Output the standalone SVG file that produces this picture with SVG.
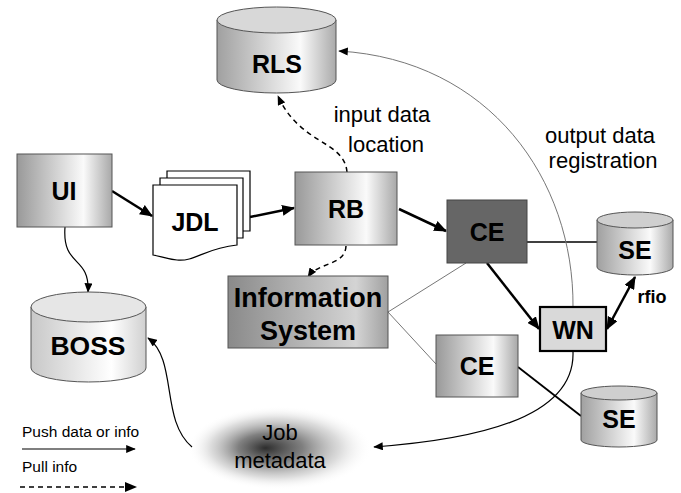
<svg xmlns="http://www.w3.org/2000/svg" width="681" height="493" viewBox="0 0 681 493">
<style>
.lbl{font-family:"Liberation Sans",Arial,sans-serif;font-size:25px;font-weight:bold;fill:#000;text-anchor:middle}
.big{font-size:27px}
.txt{font-family:"Liberation Sans",Arial,sans-serif;font-size:22px;fill:#000;text-anchor:middle}
.leg{font-family:"Liberation Sans",Arial,sans-serif;font-size:15.5px;fill:#000}
.box{stroke:#555;stroke-width:1}
.thick{fill:none;stroke:#000;stroke-width:2.5}
.thin{fill:none;stroke:#000;stroke-width:1.2}
.dash{fill:none;stroke:#000;stroke-width:1.5;stroke-dasharray:5,4}
.gline{fill:none;stroke:#777;stroke-width:1}
</style>
<defs>
<linearGradient id="metal" x1="0" y1="0" x2="1" y2="0">
<stop offset="0" stop-color="#999"/>
<stop offset="0.7" stop-color="#fafafa"/>
<stop offset="1" stop-color="#a8a8a8"/>
</linearGradient>
<linearGradient id="info" x1="0" y1="0" x2="1" y2="0">
<stop offset="0" stop-color="#8a8a8a"/>
<stop offset="0.8" stop-color="#d4d4d4"/>
<stop offset="1" stop-color="#a0a0a0"/>
</linearGradient>
<linearGradient id="cyl" x1="0" y1="0" x2="1" y2="0">
<stop offset="0" stop-color="#a0a0a0"/>
<stop offset="0.7" stop-color="#fafafa"/>
<stop offset="1" stop-color="#aaa"/>
</linearGradient>
<linearGradient id="cylL" x1="0" y1="0" x2="1" y2="0">
<stop offset="0" stop-color="#c8c8c8"/>
<stop offset="0.7" stop-color="#fff"/>
<stop offset="1" stop-color="#d0d0d0"/>
</linearGradient>
<radialGradient id="blob" cx="0.5" cy="0.5" r="0.5" fx="0.42" fy="0.5">
<stop offset="0" stop-color="#222" stop-opacity="0.95"/>
<stop offset="0.35" stop-color="#555" stop-opacity="0.75"/>
<stop offset="0.7" stop-color="#999" stop-opacity="0.35"/>
<stop offset="1" stop-color="#fff" stop-opacity="0"/>
</radialGradient>
<marker id="ah" viewBox="0 0 12 10" refX="11" refY="5" markerWidth="13" markerHeight="11" markerUnits="userSpaceOnUse" orient="auto-start-reverse">
<path d="M0,0 L12,5 L0,10 z" fill="#000"/>
</marker>
<marker id="as" viewBox="0 0 12 10" refX="11" refY="5" markerWidth="10" markerHeight="8" markerUnits="userSpaceOnUse" orient="auto">
<path d="M0,0 L12,5 L0,10 z" fill="#000"/>
</marker>
</defs>
<rect width="681" height="493" fill="#fff"/>

<g id="job-metadata">
<ellipse cx="280" cy="448" rx="92" ry="42" fill="url(#blob)"/>
<text class="txt" x="280" y="440">Job</text>
<text class="txt" x="280" y="468">metadata</text>
</g>

<g id="connectors">
<path class="thick" d="M112,191 L152,216" marker-end="url(#ah)"/>
<path class="thick" d="M250,217 L294,208" marker-end="url(#ah)"/>
<path class="thick" d="M399,209 L446,231" marker-end="url(#ah)"/>
<path class="dash" d="M347,172 C344,140 300,145 278,96" marker-end="url(#as)"/>
<path class="dash" d="M346,246 C345,266 318,262 308,277" marker-end="url(#as)"/>
<path class="thin" d="M65,227 C62,268 90,255 88,292" marker-end="url(#as)"/>
<path class="thin" d="M192,447 C160,420 178,360 148,338" marker-end="url(#as)"/>
<path fill="none" stroke="#000" stroke-width="1.5" d="M527,242 L597,242"/>
<path class="thick" d="M487,263 L539,329" marker-end="url(#ah)"/>
<path class="thick" d="M607,329 L635,277" marker-start="url(#ah)" marker-end="url(#ah)"/>
<path class="gline" d="M388,312 L466,263"/>
<path class="gline" d="M388,312 L436,364"/>
<path fill="none" stroke="#000" stroke-width="1.8" d="M518,367 L581,416"/>
<path class="gline" d="M573,307 C574,180 490,60 339,51" marker-end="url(#as)"/>
<path class="thin" d="M573,352 C575,420 470,440 374,447" marker-end="url(#as)"/>
<path class="thin" d="M22,449 L135,449" marker-end="url(#as)"/>
<path class="dash" d="M20,487 L128,487"/>
<path d="M125,482 L137,487 L125,492 z" fill="#000"/>
</g>

<g id="RLS">
<path class="box" fill="url(#cyl)" d="M217,20 V80 A59.5,13 0 0 0 336,80 V20 Z"/>
<ellipse class="box" cx="276.5" cy="20" rx="59.5" ry="13" fill="#d8d8d8"/>
<text class="lbl" x="277" y="73">RLS</text>
</g>

<g id="UI">
<rect class="box" x="17" y="154" width="95" height="73" fill="url(#metal)"/>
<text class="lbl" x="64" y="200">UI</text>
</g>

<g id="JDL">
<path fill="#fff" stroke="#000" stroke-width="1.2" d="M167,171 H250 V231 H167 Z"/>
<path fill="#fff" stroke="#000" stroke-width="1.2" d="M160,178 H243 V238 H160 Z"/>
<path fill="#fff" stroke="#000" stroke-width="1.2" d="M153,185 H237 V245 C205,248 195,262 177,260 C166,259 160,256 153,255 Z"/>
<text class="lbl" x="195" y="231">JDL</text>
</g>

<g id="RB">
<rect class="box" x="295" y="172" width="102" height="73" fill="url(#metal)"/>
<text class="lbl" x="346" y="218">RB</text>
</g>

<g id="CE1">
<rect x="447" y="200" width="80" height="63" fill="#666" stroke="#444" stroke-width="1"/>
<text class="lbl" x="487" y="241">CE</text>
</g>

<g id="SE1">
<path class="box" fill="url(#cyl)" d="M597,220 V267 A38,8 0 0 0 673,267 V220 Z"/>
<ellipse class="box" cx="635" cy="220" rx="38" ry="8" fill="#cfcfcf"/>
<text class="lbl" x="635" y="259">SE</text>
</g>

<g id="WN">
<rect x="540" y="307" width="66" height="44" fill="#d9d9d9" stroke="#000" stroke-width="2.2"/>
<text class="lbl" x="573" y="339">WN</text>
</g>

<g id="InformationSystem">
<rect class="box" x="228" y="276" width="160" height="72" fill="url(#info)"/>
<text class="lbl big" x="308" y="307">Information</text>
<text class="lbl big" x="308" y="340">System</text>
</g>

<g id="CE2">
<rect class="box" x="436" y="335" width="82" height="62" fill="url(#metal)"/>
<text class="lbl" x="477" y="375">CE</text>
</g>

<g id="SE2">
<path class="box" fill="url(#cyl)" d="M581,393 V440 A38,7 0 0 0 657,440 V393 Z"/>
<ellipse class="box" cx="619" cy="393" rx="38" ry="7" fill="#cfcfcf"/>
<text class="lbl" x="619" y="428">SE</text>
</g>

<g id="BOSS">
<path class="box" fill="url(#cylL)" d="M31,307 V368 A57.5,14 0 0 0 146,368 V307 Z"/>
<ellipse class="box" cx="88.5" cy="307" rx="57.5" ry="15" fill="#e6e6e6"/>
<text class="lbl" x="88" y="355" style="font-size:26.5px">BOSS</text>
</g>

<g id="labels">
<text class="txt" x="382" y="122">input data</text>
<text class="txt" x="386" y="152">location</text>
<text class="txt" x="600" y="143">output data</text>
<text class="txt" x="603" y="168">registration</text>
<text class="leg" x="22" y="437">Push data or info</text>
<text class="leg" x="22" y="472">Pull info</text>
<text x="652" y="303" font-family="Liberation Sans, Arial, sans-serif" font-size="18" font-weight="bold" text-anchor="middle">rfio</text>
</g>
</svg>
